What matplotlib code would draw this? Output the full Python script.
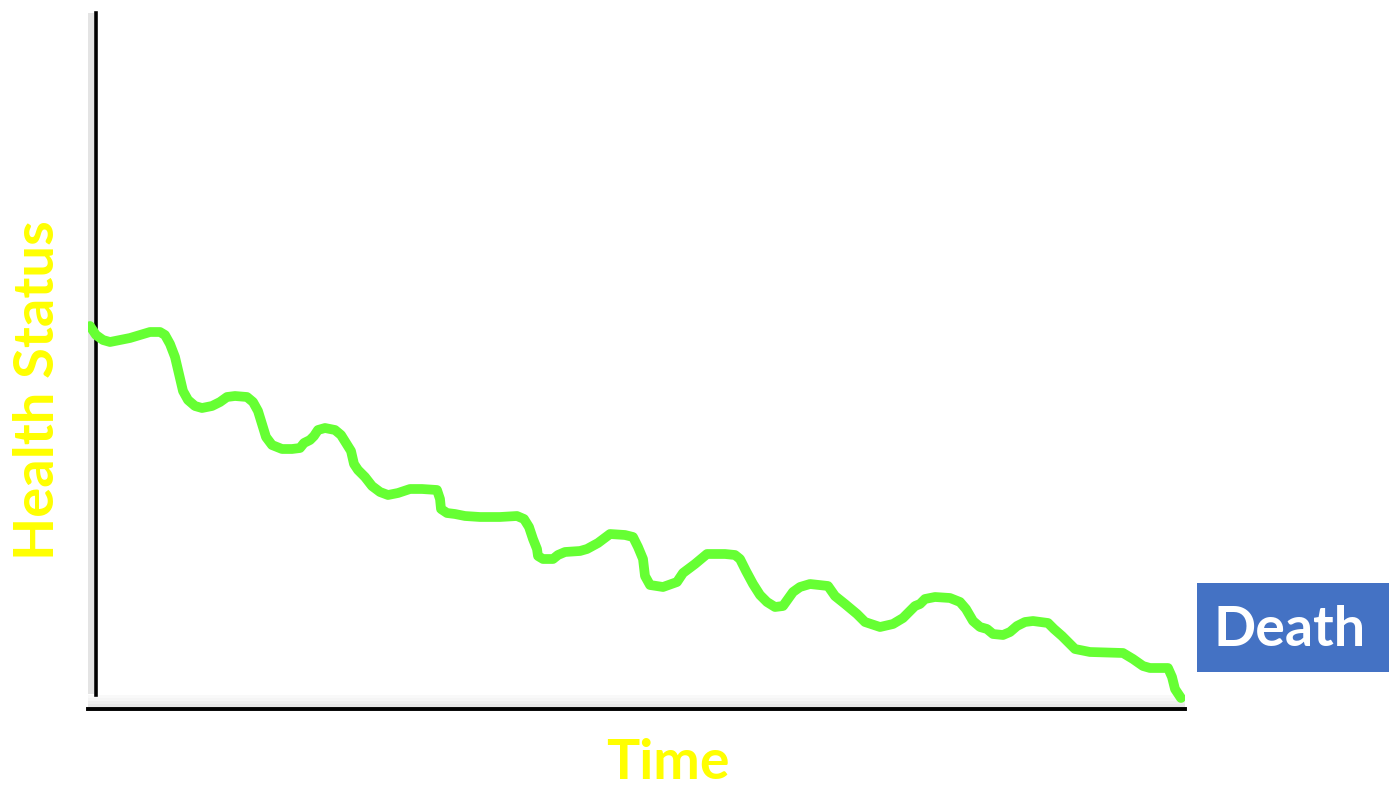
import matplotlib
matplotlib.use("Agg")
import matplotlib.pyplot as plt
from matplotlib.patches import Rectangle

# Data (time units vs. health units)
time = [2, 8, 15, 22, 32, 42, 52, 62, 72, 77,
        82, 87, 91, 95, 100, 107, 114, 124, 132, 139,
        147, 159, 165, 170, 174, 178, 184, 194, 204, 212,
        216, 222, 226, 230, 237, 247, 253, 258, 263, 266,
        270, 277, 284, 292, 300, 310, 322, 334, 349, 352,
        353, 359, 367, 377, 392, 412, 429, 436, 441, 445,
        449, 450, 455, 465, 470, 477, 492, 499, 510, 522,
        537, 545, 550, 555, 557, 562, 575, 589, 595, 607,
        619, 637, 647, 652, 658, 665, 672, 679, 687, 695,
        700, 705, 712, 722, 740, 747, 757, 769, 777, 792,
        805, 815, 822, 827, 832, 837, 847, 862, 872, 878,
        885, 892, 899, 905, 915, 922, 929, 937, 945, 960,
        966, 974, 987, 1002, 1035, 1045, 1055, 1062, 1080, 1084,
        1087, 1093]
health = [383, 374, 369, 367, 369, 371, 374, 377, 377, 374,
          365, 352, 335, 318, 309, 303, 301, 303, 307, 312,
          313, 312, 307, 298, 285, 272, 264, 260, 260, 261,
          266, 269, 273, 279, 281, 279, 274, 266, 258, 245,
          239, 232, 223, 217, 214, 216, 220, 220, 219, 210,
          200, 196, 195, 193, 192, 192, 193, 190, 182, 170,
          160, 153, 150, 150, 154, 157, 158, 160, 166, 175,
          174, 172, 162, 150, 133, 124, 122, 127, 136, 145,
          155, 155, 154, 150, 138, 125, 114, 107, 102, 103,
          110, 117, 122, 125, 123, 113, 105, 95, 87, 82,
          85, 91, 98, 103, 105, 110, 112, 111, 107, 100,
          88, 82, 80, 75, 74, 77, 83, 87, 88, 86,
          80, 73, 60, 57, 56, 50, 43, 41, 41, 32,
          20, 11]

x_label = "Time"
y_label = "Health Status"
end_label = "Death"

W, H = 1389, 787
fig = plt.figure(figsize=(W / 100, H / 100), dpi=100)
fig.patch.set_facecolor("white")

ax = fig.add_axes([88 / W, (H - 709) / H, 1097 / W, 696 / H])
ax.set_xlim(0, 1097)
ax.set_ylim(0, 696)
ax.set_facecolor("none")

# subtle shadows of the hand-drawn axes
ax.axvspan(-5, 6, ymin=15 / 696, ymax=1.0, color="#e4e4e4", lw=0, zorder=0)
for i, a in enumerate([0.35, 0.25, 0.15, 0.08]):
    ax.axhspan(2 + i * 3, 5 + i * 3, color="#bdbdbd", alpha=a, lw=0, zorder=0)

ax.plot(time, health, color="#66FF33", lw=7.0, solid_capstyle="round",
        solid_joinstyle="round", zorder=3)

for s in ["top", "right"]:
    ax.spines[s].set_visible(False)
ax.spines["left"].set_position(("data", 8))
ax.spines["left"].set_bounds(14, 696)
ax.spines["left"].set_linewidth(2.6)
ax.spines["bottom"].set_linewidth(2.8)
ax.spines["left"].set_color("black")
ax.spines["bottom"].set_color("black")
ax.set_xticks([])
ax.set_yticks([])

fig.text(38 / W, 1 - 390 / H, y_label, rotation=90, ha="center", va="center",
         color="#FFFF00", fontsize=40.5, fontweight="bold", family="Lato")
fig.text(668 / W, 1 - 763 / H, x_label, ha="center", va="center",
         color="#FFFF00", fontsize=40, fontweight="bold", family="Lato")

fig.patches.append(Rectangle((1197 / W, (H - 672) / H), 192 / W, 89 / H,
                             transform=fig.transFigure, facecolor="#4472C4",
                             edgecolor="none"))
fig.text(1290 / W, 1 - 630 / H, end_label, ha="center", va="center",
         color="white", fontsize=40, fontweight="bold", family="Lato")

fig.savefig("out.png", dpi=100, facecolor="white")
